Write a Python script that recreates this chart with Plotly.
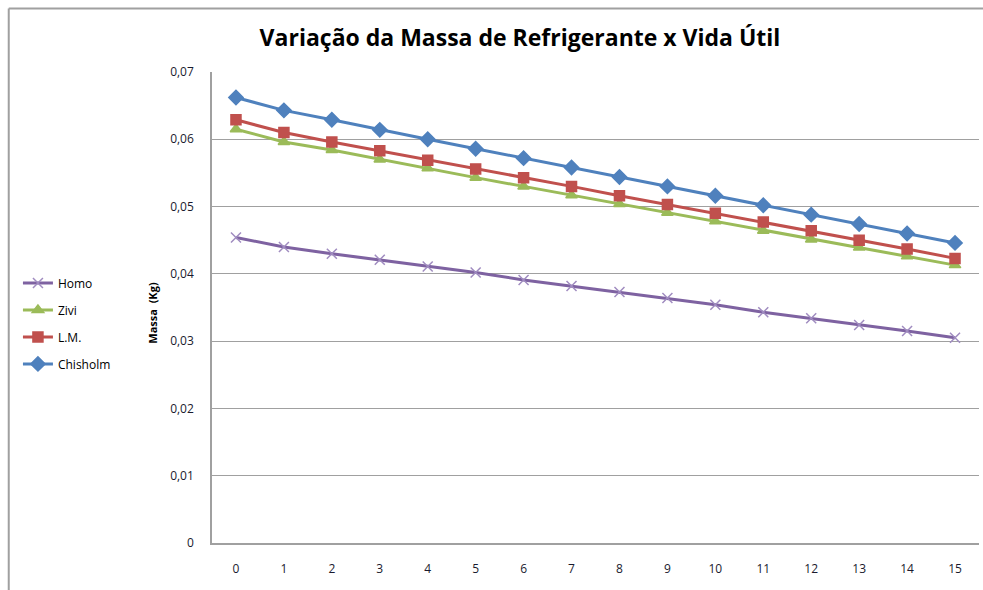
import plotly.graph_objects as go

anos = list(range(0, 16))

homo = [0.0454, 0.0440, 0.0430, 0.0421, 0.0411, 0.0402, 0.0391, 0.0382,
        0.0373, 0.0364, 0.0354, 0.0343, 0.0334, 0.0324, 0.0315, 0.0305]
zivi = [0.0615, 0.0596, 0.0584, 0.0570, 0.0557, 0.0543, 0.0530, 0.0517,
        0.0504, 0.0491, 0.0478, 0.0464, 0.0451, 0.0439, 0.0426, 0.0413]
lm = [0.0629, 0.0610, 0.0596, 0.0583, 0.0569, 0.0556, 0.0543, 0.0530,
      0.0516, 0.0503, 0.0490, 0.0477, 0.0464, 0.0450, 0.0437, 0.0423]
chisholm = [0.0662, 0.0643, 0.0629, 0.0614, 0.0600, 0.0586, 0.0572, 0.0558,
            0.0544, 0.0530, 0.0516, 0.0502, 0.0488, 0.0474, 0.0460, 0.0446]

y_ticks = [0, 0.01, 0.02, 0.03, 0.04, 0.05, 0.06, 0.07]
y_labels = ['0', '0,01', '0,02', '0,03', '0,04', '0,05', '0,06', '0,07']

font = "Open Sans, Liberation Sans, sans-serif"

series = [
    ('Homo', homo, '#7e62a1', 'x-thin-open', 10, '#a08cc0'),
    ('Zivi', zivi, '#9bbb59', 'triangle-up', 10, '#9bbb59'),
    ('L.M.', lm, '#c0504d', 'square', 10, '#c0504d'),
    ('Chisholm', chisholm, '#4f81bd', 'diamond', 11, '#4f81bd'),
]

fig = go.Figure()
for name, vals, cor, simb, tam, cor_m in series:
    fig.add_trace(go.Scatter(
        x=anos, y=vals, name=name, mode='lines+markers', legendgroup=name,
        line=dict(color=cor, width=3),
        marker=dict(symbol=simb, size=tam, color=cor_m,
                    line=dict(color=cor_m, width=1.5)),
    ))

# chart frame: only the top and left edges show in the picture
borda = dict(color='#a0a0a0', width=2)

# plot area: x 212..979, y 72..543 (471 px high, 767 px wide)
fig.update_layout(
    width=983, height=590,
    margin=dict(l=212, r=4, t=72, b=47),
    paper_bgcolor='white', plot_bgcolor='white',
    font=dict(family=font, size=12, color='#1a1a2e'),
    title=dict(text='<b>Variação da Massa de Refrigerante x Vida Útil</b>',
               x=0.529, xanchor='center', y=0.936, yanchor='middle',
               font=dict(family=font, size=23, color='black')),
    showlegend=True,
    legend=dict(x=-0.253, y=0.583, xanchor='left', yanchor='top',
                traceorder='grouped', tracegroupgap=8,
                font=dict(size=12, color='black'), bgcolor='rgba(0,0,0,0)'),
    xaxis=dict(tickmode='array', tickvals=anos, ticktext=[str(a) for a in anos],
               range=[-0.5, 15.5], showgrid=False, showline=True,
               linecolor='#a0a0a0', linewidth=1.5, ticks='', ticklen=0,
               zeroline=False, tickfont=dict(size=12)),
    yaxis=dict(tickmode='array', tickvals=y_ticks, ticktext=y_labels,
               range=[0, 0.07], showgrid=True, gridcolor='#a0a0a0', gridwidth=1.2,
               showline=True, linecolor='#a0a0a0', linewidth=1.5, ticks='',
               zeroline=False, tickfont=dict(size=12)),
    annotations=[dict(text='<b>Massa  (Kg)</b>', xref='paper', yref='paper',
                      x=-0.090, y=0.49, textangle=-90, showarrow=False,
                      font=dict(family=font, size=11, color='black'))],
    shapes=[
        dict(type='line', xref='paper', yref='paper',
             x0=-0.265, y0=-0.2, x1=-0.265, y1=1.135, line=borda),
        dict(type='line', xref='paper', yref='paper',
             x0=-0.265, y0=1.135, x1=1.02, y1=1.135, line=borda),
    ],
)
fig.update_xaxes(ticklabelstandoff=14)
fig.update_yaxes(ticklabelstandoff=14)

fig.write_html("out.html", config={'displayModeBar': False},
               post_script="document.body.style.margin='0';"
                           "document.body.style.overflow='hidden';")
